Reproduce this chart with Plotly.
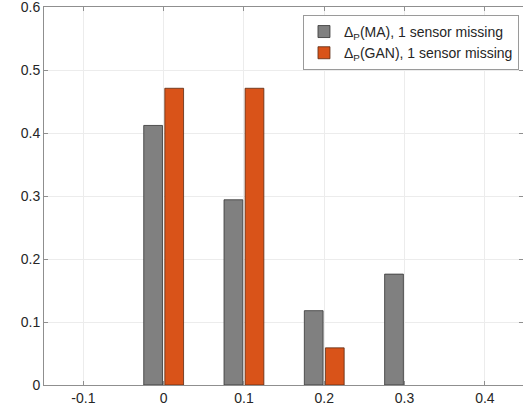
import plotly.graph_objects as go

x_vals = [0.0, 0.1, 0.2, 0.3]
ma_vals = [0.412, 0.294, 0.118, 0.176]
gan_vals = [0.471, 0.471, 0.059, 0.0]
ma_name = "Δ<sub>P</sub>(MA), 1 sensor missing"
gan_name = "Δ<sub>P</sub>(GAN), 1 sensor missing"
x_ticks = [-0.1, 0, 0.1, 0.2, 0.3, 0.4]
x_tick_text = ["-0.1", "0", "0.1", "0.2", "0.3", "0.4"]
y_ticks = [0, 0.1, 0.2, 0.3, 0.4, 0.5, 0.6]
y_tick_text = ["0", "0.1", "0.2", "0.3", "0.4", "0.5", "0.6"]

font_family = "Liberation Sans, Arial, Helvetica, sans-serif"
axis_col = "#8f8f8f"
text_col = "#262626"

fig = go.Figure()
fig.add_trace(go.Bar(x=x_vals, y=ma_vals, name=ma_name, legendgroup="a",
                     marker=dict(color="#808080", line=dict(color="#333333", width=0.8))))
fig.add_trace(go.Bar(x=x_vals, y=gan_vals, name=gan_name, legendgroup="b",
                     marker=dict(color="#D95319",
                                 line=dict(color="#5a2a12", width=[0.8, 0.8, 0.8, 0]))))
# invisible trace to drive right-side ticks
fig.add_trace(go.Scatter(x=[x_vals[0]], y=[ma_vals[0]], yaxis="y2", showlegend=False,
                         mode="markers", marker=dict(opacity=0), hoverinfo="skip"))

fig.update_layout(
    width=523, height=415,
    margin=dict(l=44, r=0, t=7, b=30, autoexpand=False),
    paper_bgcolor="white", plot_bgcolor="white",
    font=dict(family=font_family, size=14, color=text_col),
    barmode="group", bargap=0.475, bargroupgap=0.11,
    xaxis=dict(range=[-0.149, 0.4475], tickvals=x_ticks, ticktext=x_tick_text,
               showgrid=True, gridcolor="#ececec", gridwidth=1, zeroline=False,
               showline=True, linecolor=axis_col, linewidth=1, mirror="ticks",
               ticks="inside", ticklen=4, tickcolor=axis_col, automargin=False,
               ticklabeloverflow="allow",
               tickfont=dict(size=14, color=text_col)),
    yaxis=dict(range=[0, 0.6], tickvals=y_ticks, ticktext=y_tick_text,
               showgrid=True, gridcolor="#ececec", gridwidth=1, zeroline=False,
               showline=True, linecolor=axis_col, linewidth=1, automargin=False,
               ticks="inside", ticklen=4, tickcolor=axis_col,
               ticklabeloverflow="allow",
               tickfont=dict(size=14, color=text_col)),
    yaxis2=dict(range=[0, 0.6], tickvals=y_ticks, overlaying="y", side="right",
                showticklabels=False, showgrid=False, zeroline=False, showline=False,
                ticks="inside", ticklen=4, tickcolor=axis_col, automargin=False),
    legend=dict(x=0.9916, y=0.979, xanchor="right", yanchor="top",
                bgcolor="white", bordercolor="#9a9a9a", borderwidth=1,
                font=dict(size=14, color=text_col), tracegroupgap=0),
    showlegend=True,
)

fig.write_html("out.html", config={"displayModeBar": False},
               post_script="document.body.style.margin='0';")
